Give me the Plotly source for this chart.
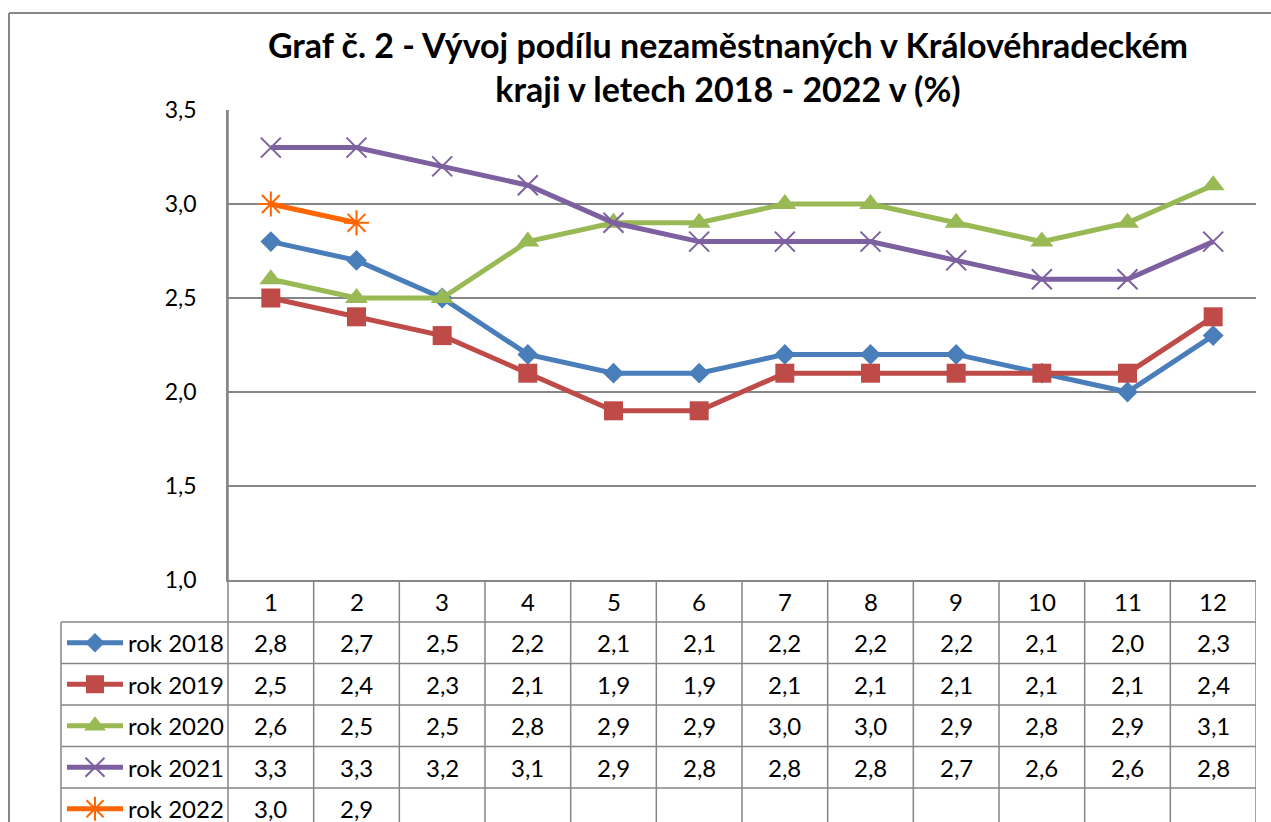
import plotly.graph_objects as go

# ---------------- data ----------------
months = [1, 2, 3, 4, 5, 6, 7, 8, 9, 10, 11, 12]
series_names = ["rok 2018", "rok 2019", "rok 2020", "rok 2021", "rok 2022"]
rok_2018 = [2.8, 2.7, 2.5, 2.2, 2.1, 2.1, 2.2, 2.2, 2.2, 2.1, 2.0, 2.3]
rok_2019 = [2.5, 2.4, 2.3, 2.1, 1.9, 1.9, 2.1, 2.1, 2.1, 2.1, 2.1, 2.4]
rok_2020 = [2.6, 2.5, 2.5, 2.8, 2.9, 2.9, 3.0, 3.0, 2.9, 2.8, 2.9, 3.1]
rok_2021 = [3.3, 3.3, 3.2, 3.1, 2.9, 2.8, 2.8, 2.8, 2.7, 2.6, 2.6, 2.8]
rok_2022 = [3.0, 2.9, None, None, None, None, None, None, None, None, None, None]
y_ticks = [1.0, 1.5, 2.0, 2.5, 3.0, 3.5]
title_text = ("Graf č. 2 - Vývoj podílu nezaměstnaných v Královéhradeckém"
              "<br>kraji v letech 2018 - 2022 v (%)")

all_series = [rok_2018, rok_2019, rok_2020, rok_2021, rok_2022]

# ---------------- styles ----------------
colors = ["#4A7EBB", "#BE4B48", "#98B954", "#7D60A0", "#FF6600"]
symbols = ["diamond", "square", "triangle-up", "x-thin-open", "asterisk-open"]
msizes = [16, 19, 20, 20, 21]
line_w = 5
GRID = "#868686"
FONT = "Lato"
TXT = 24

W, H = 1271, 822
PLOT_L, PLOT_R, PLOT_T, PLOT_B = 228, 1256, 110, 580
TABLE_L = 61
HEADER_B = 622
ROW_H = 41.5
N_ROWS = len(series_names)


def px(x):
    return x / W


def py(y):
    return 1 - y / H


fig = go.Figure()

# data lines
for name, vals, c, s, ms in zip(series_names, all_series, colors, symbols, msizes):
    thin = s.endswith("-open")
    fig.add_trace(go.Scatter(
        x=months, y=vals, name=name, mode="lines+markers",
        line=dict(color=c, width=line_w),
        marker=dict(symbol=s, size=ms, color=c, opacity=1,
                    line=dict(color=c, width=2 if thin else 0)),
        connectgaps=False, showlegend=False,
        xaxis="x", yaxis="y",
    ))

# legend samples in data table (full-figure pixel axes)
for i, (c, s, ms) in enumerate(zip(colors, symbols, msizes)):
    thin = s.endswith("-open")
    yc = HEADER_B + ROW_H * (i + 0.5)
    fig.add_trace(go.Scatter(
        x=[67, 123], y=[yc, yc], mode="lines",
        line=dict(color=c, width=line_w),
        showlegend=False, hoverinfo="skip", xaxis="x2", yaxis="y2",
    ))
    fig.add_trace(go.Scatter(
        x=[95], y=[yc], mode="markers",
        marker=dict(symbol=s, size=ms - 1, color=c, opacity=1,
                    line=dict(color=c, width=2 if thin else 0)),
        showlegend=False, hoverinfo="skip", xaxis="x2", yaxis="y2",
    ))

shapes = []
# outer chart border (top + left visible)
shapes.append(dict(type="line", xref="paper", yref="paper", x0=px(9), x1=1.0,
                   y0=py(13), y1=py(13), line=dict(color=GRID, width=2)))
shapes.append(dict(type="line", xref="paper", yref="paper", x0=px(9), x1=px(9),
                   y0=py(13), y1=0, line=dict(color=GRID, width=2)))

bottom = HEADER_B + ROW_H * N_ROWS
for r in range(N_ROWS + 1):
    yy = HEADER_B + ROW_H * r
    shapes.append(dict(type="line", xref="paper", yref="paper",
                       x0=px(TABLE_L), x1=px(PLOT_R), y0=py(yy), y1=py(yy),
                       line=dict(color=GRID, width=1.5)))
shapes.append(dict(type="line", xref="paper", yref="paper",
                   x0=px(TABLE_L), x1=px(TABLE_L), y0=py(HEADER_B), y1=py(bottom),
                   line=dict(color=GRID, width=1.5)))
shapes.append(dict(type="line", xref="paper", yref="paper",
                   x0=px(PLOT_L), x1=px(PLOT_L), y0=py(PLOT_T), y1=py(bottom),
                   line=dict(color=GRID, width=1.5)))
for m in months:
    shapes.append(dict(type="line", xref="x", yref="paper",
                       x0=m + 0.5, x1=m + 0.5, y0=py(PLOT_B), y1=py(bottom),
                       line=dict(color=GRID, width=1.5)))

annotations = []
for m in months:
    annotations.append(dict(text=str(m), x=m, xref="x", y=py((PLOT_B + HEADER_B) / 2),
                            yref="paper", showarrow=False, xanchor="center",
                            yanchor="middle", font=dict(size=TXT, color="black", family=FONT)))
for i, vals in enumerate(all_series):
    yc = HEADER_B + ROW_H * (i + 0.5)
    for m, v in zip(months, vals):
        if v is None:
            continue
        annotations.append(dict(text=f"{v:.1f}".replace(".", ","), x=m, xref="x",
                                y=py(yc), yref="paper", showarrow=False,
                                xanchor="center", yanchor="middle",
                                font=dict(size=TXT, color="black", family=FONT)))
    annotations.append(dict(text=series_names[i], x=px(126), xref="paper",
                            y=py(yc), yref="paper", showarrow=False,
                            xanchor="left", yanchor="middle",
                            font=dict(size=TXT, color="black", family=FONT)))

fig.update_layout(
    template="none",
    width=W, height=H,
    autosize=False,
    margin=dict(l=0, r=0, t=0, b=0, pad=0),
    paper_bgcolor="white", plot_bgcolor="rgba(0,0,0,0)",
    separators=", ",
    title=dict(text=title_text, x=px(728), xanchor="center", xref="paper",
               y=py(58), yanchor="middle", yref="paper",
               font=dict(size=34, color="black", family=FONT, weight="bold")),
    xaxis=dict(domain=[px(PLOT_L), px(PLOT_R)], range=[0.5, 12.5], automargin=False,
               showgrid=False, zeroline=False, showticklabels=False,
               showline=True, linecolor=GRID, linewidth=1.5, ticks=""),
    yaxis=dict(domain=[py(PLOT_B), py(PLOT_T)], range=[1.0, 3.5], automargin=False,
               tickvals=y_ticks, tickformat=".1f",
               showgrid=True, gridcolor=GRID, gridwidth=1.5, zeroline=False,
               showline=True, linecolor=GRID, linewidth=1.5, ticks="",
               ticklabelstandoff=25,
               tickfont=dict(size=23, color="black", family=FONT)),
    xaxis2=dict(domain=[0, 1], range=[0, W], visible=False, anchor="y2",
                automargin=False),
    yaxis2=dict(domain=[0, 1], range=[H, 0], visible=False, anchor="x2",
                automargin=False),
    shapes=shapes,
    annotations=annotations,
    showlegend=False,
)

fig.write_html("out.html",
               config={"displayModeBar": False},
               post_script="document.body.style.margin='0';document.body.style.overflow='hidden';")
